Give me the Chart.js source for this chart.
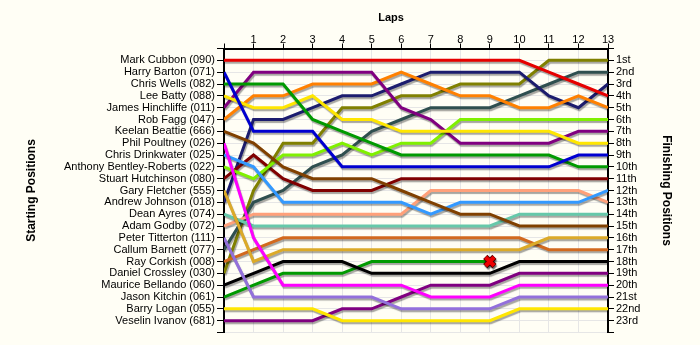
<!DOCTYPE html>
<html>
<head>
<meta charset="utf-8">
<script src="https://cdn.jsdelivr.net/npm/chart.js@4.4.1/dist/chart.umd.min.js"></script>
<style>
  html, body { margin: 0; padding: 0; background: #fffef5; }
  canvas { display: block; background: #fffef5; }
</style>
</head>
<body>
<canvas id="lapChart" width="700" height="345"></canvas>
<script>
// Tours et libellés
const laps = [0, 1, 2, 3, 4, 5, 6, 7, 8, 9, 10, 11, 12, 13];
const startLabels = [
  'Mark Cubbon (090)', 'Harry Barton (071)', 'Chris Wells (082)', 'Lee Batty (088)',
  'James Hinchliffe (011)', 'Rob Fagg (047)', 'Keelan Beattie (666)', 'Phil Poultney (026)',
  'Chris Drinkwater (025)', 'Anthony Bentley-Roberts (022)', 'Stuart Hutchinson (080)',
  'Gary Fletcher (555)', 'Andrew Johnson (018)', 'Dean Ayres (074)', 'Adam Godby (072)',
  'Peter Titterton (111)', 'Callum Barnett (077)', 'Ray Corkish (008)', 'Daniel Crossley (030)',
  'Maurice Bellando (060)', 'Jason Kitchin (061)', 'Barry Logan (055)', 'Veselin Ivanov (681)'
];
const finishLabels = [
  '1st', '2nd', '3rd', '4th', '5th', '6th', '7th', '8th', '9th', '10th', '11th', '12th',
  '13th', '14th', '15th', '16th', '17th', '18th', '19th', '20th', '21st', '22nd', '23rd'
];

// Positions par tour (tour 0 = grille)
const markCubbon = [1, 1, 1, 1, 1, 1, 1, 1, 1, 1, 1, 2, 3, 4];
const harryBarton = [2, 7, 7, 7, 10, 10, 10, 10, 10, 10, 10, 10, 9, 9];
const chrisWells = [3, 3, 3, 6, 7, 8, 9, 9, 9, 9, 9, 9, 10, 10];
const leeBatty = [4, 5, 5, 4, 6, 6, 7, 7, 7, 7, 7, 7, 8, 8];
const jamesHinchliffe = [5, 2, 2, 2, 2, 2, 5, 6, 8, 8, 8, 8, 7, 7];
const robFagg = [6, 4, 4, 3, 3, 3, 2, 3, 4, 4, 5, 5, 4, 5];
const keelanBeattie = [7, 8, 10, 11, 11, 11, 12, 13, 14, 14, 15, 15, 15, 15];
const philPoultney = [8, 16, 20, 20, 20, 20, 20, 21, 21, 21, 20, 20, 20, 20];
const chrisDrinkwater = [9, 10, 13, 13, 13, 13, 13, 14, 13, 13, 13, 13, 13, 12];
const anthonyBentleyRoberts = [10, 11, 9, 9, 8, 9, 8, 8, 6, 6, 6, 6, 6, 6];
const stuartHutchinson = [11, 9, 11, 12, 12, 12, 11, 11, 11, 11, 11, 11, 11, 11];
const garyFletcher = [12, 18, 17, 17, 17, 17, 17, 17, 17, 17, 17, 16, 16, 16];
const andrewJohnson = [13, 6, 6, 5, 4, 4, 3, 2, 2, 2, 2, 4, 5, 3];
const deanAyres = [14, 15, 15, 15, 15, 15, 15, 15, 15, 15, 14, 14, 14, 14];
const adamGodby = [15, 14, 14, 14, 14, 14, 14, 12, 12, 12, 12, 12, 12, 13];
const peterTitterton = [16, 21, 21, 21, 21, 21, 22, 22, 22, 22, 21, 21, 21, 21];
const callumBarnett = [17, 13, 12, 10, 9, 7, 6, 5, 5, 5, 4, 3, 2, 2];
const rayCorkish = [18, 17, 16, 16, 16, 16, 16, 16, 16, 16, 16, 17, 17, 17];
const danielCrossley = [19, 12, 8, 8, 5, 5, 4, 4, 3, 3, 3, 1, 1, 1];
const mauriceBellando = [20, 19, 18, 18, 18, 19, 19, 19, 19, 19, 18, 18, 18, 18];
const jasonKitchin = [21, 20, 19, 19, 19, 18, 18, 18, 18, 18];
const barryLogan = [22, 22, 22, 22, 23, 23, 23, 23, 23, 23, 22, 22, 22, 22];
const veselinIvanov = [23, 23, 23, 23, 22, 22, 21, 20, 20, 20, 19, 19, 19, 19];

// Abandon
const retiredDriver = 20; // index de Jason Kitchin
const retiredLap = 9;

const driverPositions = [
  markCubbon, harryBarton, chrisWells, leeBatty, jamesHinchliffe, robFagg, keelanBeattie,
  philPoultney, chrisDrinkwater, anthonyBentleyRoberts, stuartHutchinson, garyFletcher,
  andrewJohnson, deanAyres, adamGodby, peterTitterton, callumBarnett, rayCorkish,
  danielCrossley, mauriceBellando, jasonKitchin, barryLogan, veselinIvanov
];

const lineColors = [
  '#e60000', '#0000d0', '#009a00', '#ffe600', '#800080', '#ff8000', '#804000',
  '#ff00ff', '#3399ff', '#80f000', '#800000', '#dcaa28',
  '#1c1c6e', '#66c8aa', '#ffa07a', '#9370db', '#2f4f4f', '#d2691e',
  '#808000', '#000000', '#009a00', '#ffe600', '#800080'
];

// Ombre sous les lignes
const lineShadow = {
  id: 'lineShadow',
  beforeDatasetDraw(chart) {
    const c = chart.ctx;
    c.save();
    c.shadowColor = 'rgba(0, 0, 0, 0.35)';
    c.shadowOffsetX = 1;
    c.shadowOffsetY = 2;
    c.shadowBlur = 1;
  },
  afterDatasetDraw(chart) {
    chart.ctx.restore();
  }
};

// Titre "Laps"
const lapsTitle = {
  id: 'lapsTitle',
  afterDraw(chart) {
    const { ctx, chartArea } = chart;
    ctx.save();
    ctx.font = 'bold 11px "Liberation Sans", Arial, sans-serif';
    ctx.fillStyle = '#000';
    ctx.textAlign = 'center';
    ctx.textBaseline = 'middle';
    ctx.fillText('Laps', (chartArea.left + chartArea.right) / 2 - 25, 18);
    ctx.restore();
  }
};

const datasets = driverPositions.map((positions, i) => ({
  label: startLabels[i],
  data: positions.map((p, lap) => ({ x: laps[lap], y: p })),
  borderColor: lineColors[i],
  borderWidth: 3,
  pointRadius: 0,
  tension: 0,
  fill: false,
  order: 0
}));

const retiredPoint = [{ x: retiredLap, y: driverPositions[retiredDriver][retiredLap] }];
datasets.push({
  label: 'Retired',
  data: retiredPoint,
  showLine: false,
  pointStyle: 'crossRot',
  pointRadius: 6,
  pointBorderWidth: 4,
  pointBorderColor: '#ee0000',
  order: -2
});
datasets.push({
  label: 'Retired outline',
  data: retiredPoint,
  showLine: false,
  pointStyle: 'crossRot',
  pointRadius: 6.5,
  pointBorderWidth: 6,
  pointBorderColor: '#5a0000',
  order: -1
});

const tickFont = { family: '"Liberation Sans", Arial, sans-serif', size: 11 };
const titleFont = { family: '"Liberation Sans", Arial, sans-serif', size: 12, weight: 'bold' };

new Chart(document.getElementById('lapChart'), {
  type: 'line',
  data: { datasets },
  options: {
    responsive: false,
    animation: false,
    events: [],
    layout: { padding: { left: 0, right: 0, top: 0, bottom: 11 } },
    plugins: {
      legend: { display: false },
      tooltip: { enabled: false }
    },
    scales: {
      x: {
        type: 'linear',
        position: 'top',
        min: 0,
        max: 13,
        afterFit: s => { s.height = 48.5; },
        ticks: {
          stepSize: 1,
          autoSkip: false,
          maxRotation: 0,
          padding: -3,
          color: '#000',
          font: tickFont,
          callback: v => (v === 0 ? '' : v)
        },
        grid: { color: '#e6e6e6', tickColor: '#000', tickLength: 5 },
        border: { color: '#000', width: 2 }
      },
      y: {
        type: 'linear',
        position: 'left',
        reverse: true,
        min: 0,
        max: 24,
        afterFit: s => { s.width = 224; },
        ticks: {
          stepSize: 1,
          autoSkip: false,
          maxTicksLimit: 30,
          padding: 2,
          color: '#000',
          font: tickFont,
          callback: v => startLabels[v - 1] || ''
        },
        grid: { color: '#e6e6e6', tickColor: '#000', tickLength: 7 },
        border: { color: '#000', width: 2 },
        title: { display: true, text: 'Starting Positions', color: '#000', font: titleFont, padding: { top: 24 } }
      },
      y2: {
        type: 'linear',
        position: 'right',
        reverse: true,
        min: 0,
        max: 24,
        afterFit: s => { s.width = 92; },
        ticks: {
          stepSize: 1,
          autoSkip: false,
          maxTicksLimit: 30,
          padding: 2,
          color: '#000',
          font: tickFont,
          callback: v => finishLabels[v - 1] || ''
        },
        grid: { drawOnChartArea: false, tickColor: '#000', tickLength: 6 },
        border: { color: '#000', width: 2 },
        title: { display: true, text: 'Finishing Positions', color: '#000', font: titleFont, padding: { top: 26 } }
      }
    }
  },
  plugins: [lineShadow, lapsTitle]
});
</script>
</body>
</html>
